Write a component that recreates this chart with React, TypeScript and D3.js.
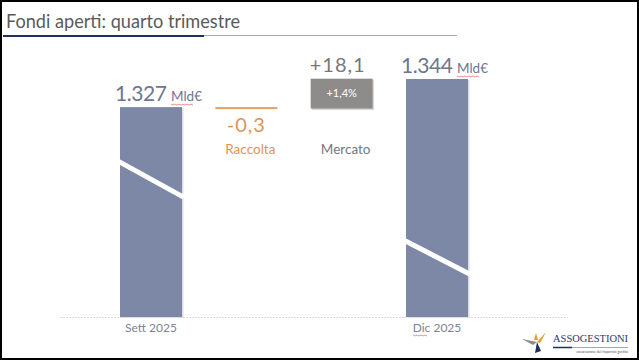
import React from "react";
import * as d3 from "d3";

const categories = ["Sett 2025", "Raccolta", "Mercato", "Dic 2025"];
const axisLabels = ["Sett 2025", "", "", "Dic 2025"];
const startValue = 1327;
const endValue = 1344;
const flowValues = [-0.3, 18.1];
const flowLabels = ["-0,3", "+18,1"];
const flowNames = ["Raccolta", "Mercato"];
const pctLabel = "+1,4%";
const totalLabels = ["1.327", "1.344"];
const unitLabel = "Mld€";
const title = "Fondi aperti: quarto trimestre";

const W = 639;
const H = 360;
const FONT = "Lato, 'Open Sans', 'Noto Sans', sans-serif";

export default function App() {
  const x = d3.scaleBand<string>().domain(categories).range([120, 468]).paddingInner(0.35).paddingOuter(0);
  const y = d3.scaleLinear().domain([1200, 1344]).range([317, 79]);
  const bw = x.bandwidth();

  const racEnd = startValue + flowValues[0];
  const merEnd = racEnd + flowValues[1];

  const totals = [
    { cat: categories[0], v: startValue, label: totalLabels[0], brk: [0.26, 0.43] },
    { cat: categories[3], v: endValue, label: totalLabels[1], brk: [0.68, 0.82] },
  ];

  const racX = x(categories[1])!;
  const merX = x(categories[2])!;
  const racTop = y(startValue);
  const merTop = y(merEnd);
  const merBot = y(racEnd);

  const cx = 537, cy = 342;
  return (
    <svg width={W} height={H} style={{ position: "fixed", left: 0, top: 0, background: "#fff" }} fontFamily={FONT}>
      <rect x={0} y={0} width={W} height={H} fill="#fff" />
      {/* title */}
      <text x={6} y={28} fontSize={19} fill="#5a5a5a" textLength={234} lengthAdjust="spacingAndGlyphs">{title}</text>
      <line x1={204} x2={457} y1={35.5} y2={35.5} stroke="#a3abbb" strokeWidth={1} />
      <line x1={3} x2={204} y1={36} y2={36} stroke="#1f2f5e" strokeWidth={2} />

      {/* baseline */}
      <line x1={60} x2={568} y1={317.5} y2={317.5} stroke="#e2d6da" strokeWidth={1} strokeDasharray="2 1" />

      {/* total bars */}
      {totals.map((t, i) => {
        const bx = x(t.cat)!;
        const top = y(t.v);
        const h = y(1200) - top;
        const y1 = top + h * t.brk[0];
        const y2 = top + h * t.brk[1];
        return (
          <g key={i}>
            <rect x={bx + 1.5} y={top + 1} width={bw} height={h} fill="#dcdde2" />
            <rect x={bx} y={top} width={bw} height={h} fill="#7c88a6" />
            <line x1={bx - 1} y1={y1} x2={bx + bw + 2} y2={y2} stroke="#fff" strokeWidth={5} />
            <text x={bx - 5} y={top - 6} fontSize={21} fill="#6d7690" textLength={52} lengthAdjust="spacing">{t.label}</text>
            <text x={bx + 51} y={top - 6} fontSize={13} fill="#6d7690" textLength={31} lengthAdjust="spacingAndGlyphs">{unitLabel}</text>
            <path
              d={d3.range(0, 24, 2).map((d, k) => `${k === 0 ? "M" : "L"}${bx + 51 + d},${top - 3 + (k % 2 ? 1 : 0)}`).join("")}
              fill="none" stroke="#e06060" strokeWidth={0.7}
            />
            <text x={bx + bw / 2} y={332} fontSize={12} fill="#7b8396" textAnchor="middle">{axisLabels[categories.indexOf(t.cat)]}</text>
          </g>
        );
      })}
      {/* squiggle under Dic */}
      <path d={d3.range(0, 16, 2).map((d, k) => `${k === 0 ? "M" : "L"}${413 + d},${335 + (k % 2 ? 1 : 0)}`).join("")} fill="none" stroke="#e06060" strokeWidth={0.7} />

      {/* raccolta */}
      <rect x={racX} y={racTop} width={bw} height={Math.max(2, y(racEnd) - racTop)} fill="#e8a062" />
      <text x={racX + bw / 2} y={132} fontSize={20} fill="#dd9457" textAnchor="middle" letterSpacing={1}>{flowLabels[0]}</text>
      <text x={racX + bw / 2 + 4} y={154} fontSize={13.5} fill="#dd9457" textAnchor="middle">{flowNames[0]}</text>

      {/* mercato */}
      <rect x={merX + 1.5} y={merTop + 2.5} width={bw} height={merBot - merTop} fill="#d8d8d8" />
      <rect x={merX} y={merTop + 1} width={bw} height={merBot - merTop} fill="#8e8b8b" />
      <text x={merX + bw / 2} y={97} fontSize={11} fill="#fff" textAnchor="middle">{pctLabel}</text>
      <text x={merX + bw / 2 - 4} y={72} fontSize={20} fill="#787878" textAnchor="middle" letterSpacing={1}>{flowLabels[1]}</text>
      <text x={merX + bw / 2 + 4} y={154} fontSize={13.5} fill="#777" textAnchor="middle">{flowNames[1]}</text>

      {/* logo */}
      <polygon points={`${cx},${cy} ${cx - 15},${cy - 3} ${cx - 4},${cy + 3}`} fill="#8a8a8a" />
      <polygon points={`${cx},${cy} ${cx + 9},${cy - 10} ${cx + 3},${cy + 1}`} fill="#e89a2e" />
      <polygon points={`${cx - 1},${cy - 9} ${cx + 1},${cy - 2} ${cx - 3},${cy - 2}`} fill="#e89a2e" />
      <polygon points={`${cx},${cy} ${cx - 2},${cy + 11} ${cx + 4},${cy + 9}`} fill="#1f2f5e" />
      <text x={553} y={342} fontSize={11} fill="#2a3a70" fontFamily="'Liberation Serif', serif" textLength={75} lengthAdjust="spacingAndGlyphs">ASSOGESTIONI</text>
      <line x1={553} x2={572} y1={347.5} y2={347.5} stroke="#1f2f5e" strokeWidth={1.5} />
      <line x1={572} x2={628} y1={347.5} y2={347.5} stroke="#8890a8" strokeWidth={0.8} />
      <text x={628} y={353} fontSize={3.5} fill="#555" textAnchor="end">associazione del risparmio gestito</text>

      {/* frame */}
      <rect x={1} y={1} width={W - 2} height={H - 2} fill="none" stroke="#000" strokeWidth={2} />
    </svg>
  );
}
